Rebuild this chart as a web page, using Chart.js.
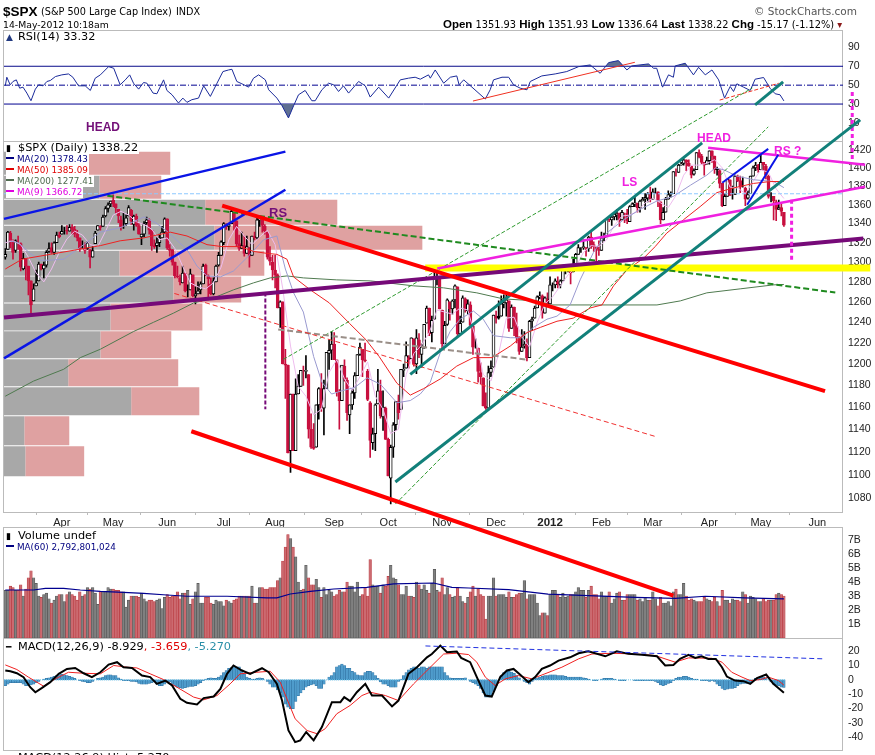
<!DOCTYPE html>
<html>
<head>
<meta charset="utf-8">
<title>$SPX</title>
<script src="https://cdn.jsdelivr.net/npm/chart.js@4"></script>
<style>
html, body { margin: 0; padding: 0; background: #fff; overflow: hidden; }
#wrap { position: relative; width: 875px; height: 755px; overflow: hidden; }
canvas { position: absolute; left: 0; top: 0; }
.t { position: absolute; white-space: nowrap; font: 11.3px "DejaVu Sans", sans-serif; line-height: 12px; color: #000; }
.ma { font-size: 8.8px; background: #fff; padding-right: 1px; }
.ma i { display: inline-block; width: 8px; height: 2px; margin: 0 3px 3px 0; background: currentColor; }
.ic { display: inline-block; width: 12px; font-size: 9px; }
.b { font-family: "Liberation Sans", Arial, sans-serif; font-weight: bold; font-size: 11.5px; }
.note { font-family: "Liberation Sans", Arial, sans-serif; font-weight: bold; font-size: 12px; }
</style>
</head>
<body>
<div id="wrap">
<canvas id="spx" width="875" height="761"></canvas>

<div class="t" style="left:3px;top:3px;font:bold 13.5px/18px 'Liberation Sans'">$SPX</div>
<div class="t" style="left:41px;top:6px;font-size:9.7px">(S&amp;P 500 Large Cap Index)</div>
<div class="t" style="left:176px;top:6px;font-size:9.7px">INDX</div>
<div class="t" style="left:3px;top:19px;font-size:9.3px">14-May-2012 10:18am</div>
<div class="t" style="left:754px;top:5px;font-size:10.5px;color:#555">© StockCharts.com</div>
<div class="t" style="left:443px;top:18px;font-size:9.8px"><span class="b">Open</span> 1351.93 <span class="b">High</span> 1351.93 <span class="b">Low</span> 1336.64 <span class="b">Last</span> 1338.22 <span class="b">Chg</span> -15.17 (-1.12%) <span style="color:#8b1a1a">▾</span></div>

<div class="t" style="left:6px;top:31px"><span class="ic" style="color:#223a80">▲</span>RSI(14) 33.32</div>
<div class="t" style="left:6px;top:142px;background:#fff;padding-right:1px"><span class="ic">▮</span>$SPX (Daily) 1338.22</div>
<div class="t ma" style="left:6px;top:153px;color:#000080"><i></i>MA(20) 1378.43</div>
<div class="t ma" style="left:6px;top:164px;color:#e00000"><i></i>MA(50) 1385.09</div>
<div class="t ma" style="left:6px;top:175px;color:#4f6b4f"><i></i>MA(200) 1277.41</div>
<div class="t ma" style="left:6px;top:186px;color:#e000e0"><i></i>MA(9) 1366.72</div>
<div class="t" style="left:6px;top:530px"><span class="ic">▮</span>Volume undef</div>
<div class="t ma" style="left:6px;top:541px;color:#000080;background:none"><i></i>MA(60) 2,792,801,024</div>
<div class="t" style="left:6px;top:641px"><span class="ic">━</span>MACD(12,26,9) -8.929<span style="color:#e00000">, -3.659</span><span style="color:#2a8fa8">, -5.270</span></div>
<div class="t" style="left:6px;top:752px"><span class="ic" style="color:#2e6f9e">▮</span>MACD(12,26,9) Hist -5.270</div>

<div class="t note" style="left:86px;top:121px;color:#730f78">HEAD</div>
<div class="t note" style="left:269px;top:207px;color:#730f78;font-size:13px">RS</div>
<div class="t note" style="left:697px;top:132px;color:#f020e0">HEAD</div>
<div class="t note" style="left:622px;top:176px;color:#f020e0">LS</div>
<div class="t note" style="left:774px;top:145px;color:#f020e0">RS ?</div>
</div>

<script>
// bars run from 2 Mar 2011 to 14 May 2012, x axis is the bar number
const monthTicks = [22, 42, 63, 85, 105, 128, 149, 170, 191, 212, 232, 252, 274, 294, 316];
const monthLabels = ['Apr', 'May', 'Jun', 'Jul', 'Aug', 'Sep', 'Oct', 'Nov', 'Dec', '2012', 'Feb', 'Mar', 'Apr', 'May', 'Jun'];
const priceTicks = [1420, 1400, 1380, 1360, 1340, 1320, 1300, 1280, 1260, 1240, 1220, 1200, 1180, 1160, 1140, 1120, 1100, 1080];
const rsiTicks = [90, 70, 50, 30, 10];
const volumeTicks = [7, 6, 5, 4, 3, 2, 1];
const macdTicks = [20, 10, 0, -10, -20, -30, -40];

const opens = [
  1305,1313,1330,1322,1312,1320,1319,1293,1303,1296,1281,1261,1276,1281,1298,1293,1297,1311,1315,1310,1320,1328,
  1329,1333,1333,1332,1336,1334,1329,1325,1315,1312,1314,1313,1305,1319,1333,1337,1337,1348,1356,1361,
  1365,1361,1355,1344,1340,1340,1348,1354,1339,1348,1338,1326,1329,1341,1344,1333,1317,1317,1320,1325,1331,
  1345,1314,1313,1300,1286,1284,1279,1289,1271,1272,1287,1266,1268,1272,1278,1297,1286,1278,1268,1280,1297,1307,
  1320,1339,1337,1340,1352,1343,1319,1314,1317,1309,1315,1307,1327,1325,1344,1344,1337,1331,1305,1300,
  1292,1287,1254,1260,1200,1199,1121,1172,1121,1172,1179,1193,1193,1190,1140,1124,1124,1162,1177,1159,1177,1210,1213,
  1219,1204,1174,1166,1198,1185,1153,1162,1173,1189,1209,1214,1204,1193,1164,1128,1136,1163,1175,1151,1159,
  1131,1097,1124,1144,1165,1158,1194,1196,1206,1205,1224,1200,1223,1209,1215,1239,1254,1230,1243,1284,1284,
  1252,1219,1238,1260,1253,1262,1275,1229,1240,1263,1251,1257,1236,1216,1215,1192,1187,1161,1159,1192,1197,
  1246,1246,1246,1258,1259,1261,1234,1255,1236,1226,1212,1217,1219,1206,1241,1244,1254,1265,1266,1249,1263,
  1258,1277,1277,1280,1277,1281,1292,1293,1294,1290,1294,1308,1315,1315,1315,1314,1326,1318,1316,1313,
  1312,1326,1326,1345,1344,1347,1349,1351,1344,1351,1351,1342,1358,1361,1362,1357,1364,1366,1367,1372,
  1366,1374,1374,1363,1344,1352,1366,1371,1372,1395,1395,1403,1405,1409,1405,1402,1393,1398,1417,1413,1406,1404,
  1408,1419,1413,1399,1397,1383,1359,1369,1387,1370,1371,1391,1386,1379,1378,1367,1372,1391,1400,1403,
  1398,1406,1402,1391,1369,1369,1363,1355,1357,1352
];
const highs = [
  1314,1332,1332,1323,1323,1327,1320,1309,1304,1296,1281,1278,1292,1300,1298,1300,1312,1320,1320,1321,1331,1331,
  1338,1336,1338,1339,1339,1337,1333,1325,1322,1320,1321,1313,1316,1332,1338,1338,1349,1358,1362,1364,
  1371,1361,1355,1348,1351,1349,1359,1355,1349,1350,1340,1329,1342,1347,1345,1333,1323,1325,1329,1337,1346,
  1345,1318,1313,1300,1296,1287,1296,1289,1277,1293,1287,1275,1280,1280,1298,1298,1287,1284,1284,1297,1310,1322,
  1341,1340,1340,1356,1352,1343,1328,1331,1327,1327,1315,1327,1331,1347,1347,1344,1339,1331,1316,1307,
  1307,1288,1261,1260,1214,1199,1172,1172,1186,1190,1194,1198,1208,1190,1154,1145,1162,1178,1191,1185,1211,1223,1231,
  1230,1204,1176,1198,1204,1187,1162,1176,1192,1209,1220,1214,1220,1195,1165,1141,1163,1195,1185,1175,1160,
  1132,1126,1146,1165,1171,1195,1200,1221,1208,1225,1224,1233,1229,1219,1238,1256,1254,1246,1293,1293,1284,
  1252,1241,1263,1260,1262,1277,1275,1246,1266,1264,1262,1260,1238,1224,1215,1201,1187,1173,1198,1203,1247,
  1251,1261,1266,1267,1267,1261,1257,1255,1249,1226,1233,1231,1224,1242,1245,1256,1266,1270,1267,1265,1269,
  1285,1279,1283,1285,1282,1297,1294,1297,1294,1303,1309,1318,1315,1323,1315,1327,1333,1321,1316,1322,
  1331,1330,1345,1345,1349,1351,1355,1351,1354,1351,1355,1359,1362,1368,1358,1365,1368,1372,1373,1379,
  1377,1378,1374,1363,1357,1368,1375,1374,1396,1399,1404,1406,1410,1409,1409,1402,1399,1417,1420,1415,1406,1412,
  1419,1419,1413,1401,1398,1383,1372,1388,1387,1380,1392,1392,1391,1390,1379,1375,1391,1402,1406,1404,
  1415,1406,1404,1392,1373,1369,1365,1365,1362,1352
];
const lows = [
  1303,1313,1315,1303,1310,1313,1291,1292,1282,1267,1249,1261,1276,1281,1292,1284,1295,1310,1309,1308,1320,1325,
  1329,1329,1329,1332,1329,1326,1322,1311,1314,1309,1313,1294,1305,1319,1333,1333,1337,1347,1352,1358,
  1358,1351,1341,1333,1335,1338,1348,1339,1333,1337,1329,1318,1326,1339,1329,1312,1314,1310,1316,1325,1330,
  1313,1306,1297,1284,1284,1277,1279,1270,1265,1272,1265,1258,1268,1268,1278,1286,1262,1267,1267,1280,1296,1307,
  1318,1334,1333,1340,1333,1316,1312,1314,1306,1309,1295,1307,1323,1324,1337,1331,1329,1303,1297,1282,
  1274,1254,1235,1200,1168,1119,1102,1121,1121,1172,1179,1180,1187,1132,1123,1122,1124,1149,1156,1135,1178,1195,1204,
  1204,1170,1140,1167,1184,1148,1136,1158,1168,1189,1208,1188,1202,1166,1115,1122,1121,1163,1150,1139,1131,
  1099,1075,1115,1139,1149,1158,1188,1196,1196,1205,1198,1191,1206,1197,1215,1239,1227,1221,1243,1277,1253,
  1215,1219,1237,1242,1248,1254,1226,1228,1240,1250,1248,1235,1209,1215,1183,1181,1161,1158,1159,1188,1197,
  1239,1243,1246,1254,1246,1231,1234,1227,1220,1209,1212,1215,1203,1206,1232,1244,1254,1263,1244,1249,1256,
  1258,1271,1274,1274,1274,1281,1288,1290,1278,1290,1294,1308,1310,1313,1306,1311,1314,1311,1300,1307,
  1312,1322,1326,1342,1338,1344,1344,1337,1344,1341,1340,1342,1358,1358,1352,1352,1364,1355,1363,1363,
  1366,1372,1358,1340,1344,1352,1366,1368,1372,1391,1395,1403,1403,1397,1402,1389,1392,1398,1411,1404,1392,1404,
  1404,1406,1394,1392,1378,1358,1359,1369,1370,1366,1371,1385,1373,1379,1359,1366,1372,1391,1397,1395,
  1398,1397,1388,1367,1363,1344,1343,1355,1348,1337
];
const closes = [
  1308,1331,1321,1310,1322,1320,1295,1304,1296,1281,1257,1273,1279,1298,1293,1297,1310,1314,1310,1320,1328,1326,
  1332,1333,1332,1336,1334,1329,1325,1314,1315,1314,1320,1305,1312,1330,1338,1336,1347,1356,1360,1364,
  1361,1357,1348,1336,1340,1346,1357,1343,1348,1338,1329,1329,1340,1344,1333,1317,1316,1320,1325,1331,1345,
  1315,1312,1300,1286,1285,1280,1289,1271,1271,1288,1266,1268,1271,1278,1296,1287,1283,1268,1281,1296,1307,1321,
  1340,1337,1339,1353,1344,1319,1314,1317,1309,1316,1306,1327,1325,1344,1345,1338,1332,1305,1301,1292,
  1287,1254,1260,1200,1199,1119,1172,1121,1172,1179,1194,1193,1194,1140,1124,1123,1162,1177,1159,1177,1211,1213,1219,
  1204,1174,1166,1199,1186,1155,1162,1173,1189,1209,1216,1204,1203,1167,1130,1136,1162,1175,1152,1160,1131,
  1099,1124,1144,1165,1155,1195,1195,1208,1204,1225,1200,1225,1209,1216,1238,1254,1229,1242,1285,1285,1253,
  1219,1237,1262,1253,1261,1276,1229,1239,1264,1252,1258,1237,1216,1216,1193,1188,1161,1159,1192,1196,1247,
  1244,1244,1258,1259,1262,1234,1255,1236,1225,1212,1216,1219,1206,1241,1243,1254,1265,1266,1249,1264,1258,
  1277,1277,1281,1278,1281,1292,1293,1296,1289,1293,1308,1315,1315,1316,1314,1326,1318,1316,1313,1312,
  1325,1325,1345,1344,1347,1350,1351,1343,1352,1351,1343,1358,1361,1362,1357,1364,1366,1368,1372,1366,
  1374,1374,1364,1344,1352,1366,1371,1372,1396,1395,1403,1404,1409,1406,1402,1392,1397,1417,1412,1406,1403,1408,
  1419,1413,1398,1398,1383,1359,1369,1388,1370,1370,1391,1386,1379,1379,1366,1371,1391,1400,1403,1398,
  1406,1403,1392,1369,1369,1364,1355,1357,1353,1338.22
];

const volumes = [
  3.4,3.4,3.7,3.6,3.4,3.4,3.8,3.0,3.5,4.3, 4.8,4.3,3.9,3.0,2.9,3.1,3.2,2.8,2.5,2.7,
  3.0,3.1,3.1,2.6,3.1,3.3,3.1,3.0,2.7,3.3, 3.0,3.1,3.6,3.5,3.6,3.2,2.4,3.3,3.3,3.3,
  3.6,3.5,3.5,3.4,3.4,3.3,3.3,2.2,2.7,3.0, 3.0,3.0,2.9,3.2,2.8,2.6,2.7,2.7,2.6,2.7,
  2.8,2.1,2.9,3.1,2.9,3.0,3.0,3.3,2.8,3.2, 3.2,3.4,2.4,2.8,3.3,3.9,2.5,2.5,2.9,2.9,
  2.5,2.4,2.7,2.6,2.6,2.3,2.7,2.6,2.5,2.7, 2.8,3.0,3.0,3.0,3.0,3.0,3.7,2.5,2.5,3.6,
  3.6,3.5,3.5,3.6,3.6,3.6,4.1,4.3,5.5,6.5, 7.4,7.1,6.5,5.8,4.0,3.4,3.5,5.2,4.3,3.8,
  3.8,4.2,3.6,2.9,3.6,3.1,3.4,3.3,3.0,3.1, 3.4,3.3,3.3,4.0,3.7,3.7,3.3,4.0,3.0,3.1,
  3.6,3.0,5.6,3.8,3.7,3.7,3.2,3.8,3.7,4.4, 5.2,4.3,4.2,3.8,3.1,3.1,3.7,3.0,3.0,2.9,
  4.0,3.8,3.5,3.8,3.4,3.2,3.9,4.9,3.4,3.3, 4.3,3.1,3.6,3.1,2.9,3.0,3.6,3.0,2.6,2.5,
  2.9,3.3,3.7,3.0,3.5,3.1,3.0,1.35,3.0,3.0, 4.3,3.0,3.1,3.1,3.1,2.9,3.3,2.9,2.9,3.1,
  3.2,3.2,4.1,2.8,3.1,3.1,3.1,2.5,1.6,1.8, 1.8,1.6,3.1,3.4,3.4,3.1,2.9,3.2,2.9,3.0,
  3.1,3.1,3.3,3.6,3.4,3.4,2.9,3.4,3.7,3.1, 3.1,2.8,3.3,3.0,3.0,3.3,2.5,2.8,3.2,3.3,
  2.7,2.7,3.1,3.1,3.1,3.1,2.7,2.8,2.6,2.9, 2.7,2.7,3.3,2.8,2.3,2.9,2.5,2.5,2.6,2.3,
  3.3,3.5,3.1,3.1,3.9,3.0,2.7,2.8,2.7,2.6, 2.6,2.6,2.9,2.8,2.7,2.6,2.9,2.6,2.3,3.4,
  2.7,2.7,2.5,2.8,2.7,2.7,2.6,3.3,3.1,2.5, 3.0,2.9,2.8,2.6,2.6,2.8,2.6,2.7,2.7,2.7,
  3.1,3.2,3.1,3.0
];
const volumeMaIndex = [0,11,15.6,22.7,29.2,37,46,53.8,62.9,70.7,86.3,101.8,105.7,110.9,118.7,127.8,140.7,151.1,166.7,173.8,180.3,195.9,211.2,226.9,245,260.7,272.4,287.7,303];
const volumeMa = [3.43,3.43,3.55,3.55,3.43,3.33,3.26,3.19,3.07,2.98,2.98,2.86,2.86,3.14,3.33,3.5,3.62,3.86,3.93,3.62,3.57,3.45,3.14,3.02,2.9,2.83,2.98,2.86,2.8];

const ma20Index = [1.6,5,9.7,13.6,17,22.7,29,37,45,54,59,62.9,70.7,74.6,78.5,83.7,88.8,95.3,100.5,105.7,109,112.2,116,120,123.2,127,131,136,140.8,146,152.4,157.6,161.5,165.4,169.3,173.1,177,182.2,186,190,196.5,201,205.5,210.8,214.7,219.8,223.7,228.9,234,240.6,247,253.6,260,266.6,273,276.3,279.5,284.7,291.2,299,303];
const ma20 = [1322,1320,1309,1302,1302,1303,1315,1331,1336,1347,1340,1332,1313,1296,1286,1285,1291,1308,1323,1327,1293,1269,1250,1207,1183,1172,1175,1178,1187,1181,1164,1166,1172,1183,1211,1231,1243,1251,1243,1227,1225,1225,1235,1243,1246,1257,1282,1310,1330,1344,1355,1364,1369,1381,1392,1400,1398,1391,1387,1385,1378.4];
const ma50Index = [0,6.5,17.5,30.5,37,44.7,53.8,64.2,70.7,78.5,84.3,91.4,96.6,101.8,105.7,109.6,112.2,118.7,126.1,133.9,140.4,145.5,152.4,157.6,162.8,169.3,175.7,182.2,189.4,196.5,203,208.2,214.7,221,227.6,232.2,236.7,241.9,248.4,252.9,257.4,263.9,270.4,276.9,283.3,291.2,297.6,303];
const ma50 = [1293,1303,1308,1314,1317,1322,1325,1331,1327,1318,1316,1316,1311,1309,1308,1303,1285,1272,1259,1239,1223,1207,1182,1171,1177,1186,1198,1206,1206,1217,1230,1235,1241,1244,1254,1257,1276,1292,1304,1316,1330,1344,1358,1373,1378,1383,1385,1385.1];
const ma200Index = [0,11,22.7,29.2,37,49.9,57.7,65.5,73.3,81.1,88.8,96.6,103.1,109.6,116,129,142,158.9,170.6,183.5,193.8,206.9,212,253.6,262.7,273,286,299,303];
const ma200 = [1170,1184,1195,1206,1214,1231,1240,1249,1259,1264,1272,1279,1284,1286,1284,1282,1281,1276,1274,1269,1263,1261,1257,1257,1261,1269,1273,1277,1277.4];
const ma9Index = [0,3,6,9,12,15,18,21,24,27,30,33,36,39,42,45,48,51,54,57,60,63,66,69,72,75,78,81,84,87,90,93,96,99,102,105,108,111,114,117,120,123,126,129,132,135,138,141,144,147,150,153,156,159,162,165,168,171,174,177,180,183,186,189,192,195,198,201,204,207,210,213,216,219,222,225,228,231,234,237,240,243,246,249,252,255,258,261,264,267,270,273,276,279,282,285,288,291,294,297,300,303];
const ma9 = [1320,1322,1318,1305,1289,1280,1293,1310,1324,1332,1328,1318,1316,1332,1349,1353,1349,1342,1339,1334,1323,1325,1314,1296,1279,1275,1273,1279,1295,1323,1337,1327,1318,1326,1333,1318,1273,1217,1179,1170,1153,1158,1192,1204,1186,1175,1188,1202,1170,1158,1136,1140,1190,1210,1218,1230,1252,1250,1248,1254,1252,1225,1190,1184,1210,1244,1245,1226,1216,1240,1258,1265,1276,1287,1295,1310,1317,1316,1323,1338,1348,1349,1353,1362,1367,1362,1357,1370,1392,1403,1403,1405,1409,1400,1379,1378,1372,1385,1398,1395,1377,1366.7];

const rsiIndex = [0,0.6,1.9,3,4.3,5.6,6.9,8.4,10,11.7,13,14.7,16.2,17.5,19.5,22,24.6,26.3,28.5,31.1,33.1,35,37,40.2,42.2,44.7,46.7,48.4,49.9,51.9,53.8,55.1,57.5,59,61.6,62.9,64.9,67.4,69.1,70.7,72.6,75.2,77.2,79.8,82.4,84.7,86.9,88.2,90.1,92.1,94.7,96.6,98.6,101.2,102.5,105.7,107.7,110.2,112.2,114.1,116.7,119.3,120.6,123.2,125.8,127.8,129.7,131.6,133.6,137.5,140.1,142,145.3,149.2,153.7,156.9,159.5,161.5,164.7,165.4,167.3,170.6,173.2,175.7,176.6,178.4,181.6,186.8,188.7,190,193.3,195.9,197.8,200.4,203,204.3,208.8,214,218.5,223.1,227.6,231.5,234.8,238.6,241.9,243.8,250.3,252.3,253.5,255.8,258.1,260,260.7,264.6,267.8,269.8,272.4,275,277.6,279.9,282.1,283.4,284.7,287.3,289.9,291.8,295.1,297.6,299.6,301.5,303];
const rsi = [49.3,58.4,50.4,53.9,55.6,46.8,47.9,41.6,33.5,45.8,50.4,49.3,53.9,54.9,59.1,60.9,61.9,58.4,49.3,49.3,44.4,57.4,60.9,69.6,67.9,50.4,55.6,60.9,52.1,45.8,52.8,52.1,41.6,40.9,55.6,44.4,39.8,31.1,36.3,31.8,34.6,36.3,49.3,38.1,52.1,64.4,66.1,66.8,53.9,51.4,47.9,57.4,60.9,55.6,45.1,36.3,28.2,15.3,28.2,39.8,44.4,33.5,33.5,45.1,52.1,50.4,43.3,49.3,41.6,53.9,49.3,37.4,47.9,36.3,55.6,57.4,58.4,56.3,60.9,57.4,66.1,52.1,58.4,59.8,50.4,55.6,47.9,35.3,45.1,55.6,58.4,58.4,50.4,46.8,45.1,53.9,59.8,61.9,64.4,69.6,71.4,62.6,73.9,76,66.1,70.4,72.5,67.9,67.9,47.9,60.9,58.4,70.4,73.2,60.9,68.9,60.9,66.1,55.6,36.3,48.6,43.3,51.4,47.9,44.4,56.3,58.1,46.8,40.9,39.8,33.32];

const macdIndex = [0,2,4.5,7.1,9.7,11.7,14.3,17.5,20.8,24,27.2,30.5,33.7,37,40.2,43.5,46,49.3,53.2,56.4,59,62.3,64.9,68.1,70.7,74.6,77.2,81.1,83.7,86.3,88.8,92.1,95.3,99.9,102.5,105.7,107.7,110.2,112.8,114.8,117.1,120,123.2,127.1,130.4,131.9,134.2,136.8,140.1,142.7,146.6,150.5,153,156.9,160.2,164.1,166,169.3,171.9,175.7,177.4,180.9,183.5,186.8,189.3,192.6,195.2,197.8,200.4,203.6,206.2,208.8,212,215.3,219.8,223.1,226.9,233.5,238,242.5,247.7,253.6,256.8,260,262.6,265.9,268.5,271,273.6,276.5,278.9,280.8,284,287.3,289.9,292.5,296.1,298.9,303];
const macd = [6.5,6,4.6,1.9,-5.1,-8.6,-5.6,-1.6,4.2,7.6,8.3,4.6,1.9,5.3,10.6,12.3,8.8,8.3,3,1.9,-2.8,-0.5,-3.9,-13.2,-16,-17.1,-12.7,-11.6,-6.3,4.2,10,6.5,4.2,8.1,5.3,-2.8,-14.4,-35.2,-43.3,-42.1,-36.3,-42.1,-32.9,-15.5,-15.5,-12,-14.8,-8.6,-2.8,-10.9,-10.9,-18.5,-14.4,4.2,8.8,15.7,18,23.8,19.2,19.7,15.3,12.3,1.9,-10.9,-11.6,1.9,6.5,7.6,3.5,-1.6,1.9,7.6,10,13.4,15.7,18.5,19.9,16.4,19.9,18.1,17.4,16.4,10,10.4,14.6,17.4,15.3,16.4,14.6,14.6,8.8,2.3,-0.5,-0.9,-2.8,1.2,3.7,-2.8,-8.93];
const signalIndex = [0,4.5,9,14.9,19.5,24.6,30.5,37,42.2,47.3,51.2,56.4,61.6,66.8,73.3,77.2,82.4,87.5,91.4,97.9,103.1,107,109.6,112.8,117.4,121.3,124.5,129,134.2,138.8,142,147.9,153,158.9,164.1,170.6,175.7,180.3,183.5,186.8,190.6,194.6,199.7,204.9,210,216.6,223.1,228.3,236.1,245.1,252.9,260.7,265.9,275,278.9,282.7,286.7,289.9,293.8,297,300.9,303];
const signal = [10.4,7.2,1.9,-4.4,0.7,5.3,4.6,4.2,10,8.8,8.3,4.2,0.2,-5.1,-12,-13.9,-10.9,-2.8,4.2,5.3,6,-1.6,-13.2,-27.1,-35.2,-37.5,-34,-23.6,-17.8,-10.9,-8.6,-10.9,-14.4,-2.8,6.5,18,18.5,17.6,12.3,1.9,-3.9,0.7,3,0.7,4.2,8.8,14.6,18,18.5,18,16.9,12.3,15.3,15,12.3,5.3,1.9,-0.5,0.2,1.9,-0.5,-3.66];
const histogram = [
  -4,-3,-2,-2,-2,-2,-2,-3,-4,-4, -3.5,-3,-2,-1,0,0.5,1,1.5,2,2.5, 3,3.5,3.8,3.5,3,2.5,2,1,0,-0.5,
  -1,-1.5,-2,-2,-1,0,1,1.5,2,3, 3.5,3.5,3,3,1.5,0.5,-0.5,-0.5,-0.5,-1, -1,-1.5,-2.5,-3,-3,-3,-2.5,-2,-1.5,-3,
  -4,-4,-3,-1,-1.5,-3,-4,-5,-5.5,-6, -5.5,-5,-4.5,-4.5,-4,-3,-2,-0.5,0.5,1, 1.5,1,1,2,3,5,6.5,8,8.5,9,
  9,9,7,4,2,1,0.5,0.5,1,1.5, 1,0,-1,-3,-5,-5,-7,-9,-12,-17, -19,-20,-20,-15,-11,-9,-7,-5,-4,-3.5,
  -3,-4,-6,-6,-3,0,2,3,5,9, 10,11,10,8,8,6,5,3.5,3,3, 5,6,6,5,3,1,-1.5,-3,-3,-4,
  -5,-5,-5,-1,0.5,3,5,7,8,9, 9,8,9,9,8,9,9,9,9,9, 9,5,3,1.5,1,1,1,1,1,1.5,
  0,-1,-2,-3,-4,-6,-9,-12,-12,-11, -8,-4,0,3,5,6,6,5.5,4.5,3, 1.5,0,-1,-2,-3,-1,1,1.5,2,2.5,
  3,3,3.5,3.5,3.5,3,3,3,2.5,2, 2,2,2,2,2,1.5,1,0.5,0,-0.5, -0.5,0,0.5,1,1,1,1,0.5,0,-0.5,
  -0.5,-0.5,0,0,0,-0.5,-0.5,-0.5,-0.5,-0.5, -0.5,-0.5,-0.5,-1,-2,-3.5,-4,-3.5,-2.5,-2, -0.5,1,2,2,2.5,2.5,2,1,0.5,0.5,
  0,-0.5,-0.5,-0.5,-1,-0.5,-1,-3,-4,-6, -7,-6.5,-6,-6,-5.5,-4,-3,-2.5,-2.5,-2.5, -2,0,1,1.5,2,2,1.5,0,-1.5,-3,
  -3.5,-4,-5,-5.27
];

// volume by price rows, centre price and where the grey and pink parts end (bar number)
const profilePrices = [1405, 1378.9, 1352, 1325.3, 1299, 1272.3, 1245.2, 1218.2, 1191.7, 1165.4, 1138.7, 1111.7];
const profileGrey = [31.9, 36.6, 77.8, 81.3, 44.4, 65.4, 40.9, 37, 24.5, 49, 7.4, 7.8];
const profilePink = [64.2, 60.7, 129.2, 162.3, 100.8, 91.8, 76.7, 64.6, 67.3, 75.5, 24.9, 30.7];

// hand drawn lines on the price chart, [bar number, price]
const blueTop = [[-0.5, 1345], [109, 1418]];
const blueLow = [[-0.5, 1205.3], [109, 1376.1]];
const purpleNeck = [[-0.5, 1244.7], [333.9, 1324.3]];
const greenDown = [[39.7, 1369.7], [323, 1269.3]];
const redTop = [[84.4, 1359], [319, 1174.7]];
const redLow = [[72.4, 1138.2], [260, 1000.3]];
const redMid = [[65.8, 1268.4], [252.9, 1133.6]];
const greyNeck = [[106.2, 1233], [203.5, 1204]];
const purpleDrop = [[101.2, 1269.3], [101.2, 1158]];
const greenThinTop = [[108.2, 1204.3], [290.7, 1490.7]];
const greenThinLow = [[151.8, 1074.9], [296.9, 1445.9]];
const tealLow = [[151.8, 1093.7], [332.7, 1453.8]];
const tealTop = [[157.6, 1190.3], [271.2, 1427.8]];
const tealTopEnd = [[291.8, 1471], [302.7, 1497.8]];
const pinkTop = [[273.5, 1422.2], [334.6, 1403.4]];
const pinkNeck = [[168.1, 1293.5], [334.6, 1379.4]];
const pinkDrop = [[306, 1365.4], [306, 1299.6]];
const pinkDropFar = [[329.6, 1486], [329.6, 1406.7]];
const wedgeTop = [[279, 1383.7], [296.9, 1421.1]];
const wedgeLow = [[288.7, 1360], [300.8, 1414.4]];
const yellowBand = [[163.4, 1294], [336.6, 1294]];
const lastPrice = [[-0.5, 1371.8], [326, 1371.8]];
const rsiUp = [[182, 33.2], [245, 74.2]];
const rsiUpDash = [[278, 34.2], [301, 52]];
const macdDown = [[163.5, 23.6], [319, 14.6]];
const macdZero = [[-0.5, 0], [303.5, 0]];
const rsiLine70 = [[-0.5, 70], [326, 70]];
const rsiLine50 = [[-0.5, 50], [326, 50]];
const rsiLine30 = [[-0.5, 30], [326, 30]];

const pts = (xs, ys) => xs.map((x, i) => ({ x: x, y: ys[i] }));
const pairs = (list) => list.map(p => ({ x: p[0], y: p[1] }));

function line(data, yAxisID, color, width, order, extra) {
    return Object.assign({
        type: 'line',
        data: data,
        yAxisID: yAxisID,
        borderColor: color,
        borderWidth: width,
        pointRadius: 0,
        tension: 0,
        fill: false,
        order: order
    }, extra || {});
}

function bars(data, yAxisID, thickness, fill, stroke, strokeWidth, order) {
    return {
        type: 'bar',
        data: data,
        yAxisID: yAxisID,
        stack: 'all',
        barThickness: thickness,
        backgroundColor: fill,
        borderColor: stroke,
        borderWidth: strokeWidth,
        borderSkipped: false,
        order: order
    };
}

// candle colours: red closes under the day before, hollow closes over its open
const RED = '#c8103f';
const isDown = closes.map((c, i) => i > 0 && c < closes[i - 1]);
const bodyFill = closes.map((c, i) => c >= opens[i] ? '#ffffff' : (isDown[i] ? RED : '#000000'));
const bodyLine = closes.map((c, i) => isDown[i] ? RED : '#000000');

const datasets = [];

// volume by price behind everything
const rowHeights = [23, 23, 25, 24, 25, 26, 27, 27, 27, 28, 29, 30];
profilePrices.forEach((p, i) => {
    datasets.push(line(pairs([[-0.5, p], [profileGrey[i], p]]), 'price', '#a8a8a8', rowHeights[i], 20, { borderCapStyle: 'butt' }));
    datasets.push(line(pairs([[profileGrey[i], p], [profilePink[i], p]]), 'price', '#dfa1a1', rowHeights[i], 20, { borderCapStyle: 'butt' }));
});

// candles
datasets.push(bars(closes.map((c, i) => ({ x: i, y: [lows[i], highs[i]] })), 'price', 1, bodyLine, bodyLine, 0, 11));
datasets.push(bars(closes.map((c, i) => ({ x: i, y: [opens[i], c] })), 'price', 3, bodyFill, bodyLine, 1, 10));

// moving averages
datasets.push(line(pts(ma200Index, ma200), 'price', '#4f7a4f', 1, 9));
datasets.push(line(pts(ma9Index, ma9), 'price', '#eebcee', 1, 8));
datasets.push(line(pts(ma20Index, ma20), 'price', '#9a9ad0', 1, 7));
datasets.push(line(pts(ma50Index, ma50), 'price', '#ee2222', 1, 6));

// trend lines, free to run out of the price panel
const free = { clip: false };
datasets.push(line(pairs(yellowBand), 'price', '#ffff00', 7, 5, { clip: false, borderCapStyle: 'butt' }));
datasets.push(line(pairs(lastPrice), 'price', '#8cc8ff', 1, 5, { borderDash: [4, 2] }));
datasets.push(line(pairs(purpleNeck), 'price', '#760a78', 4, 4, free));
datasets.push(line(pairs(greenDown), 'price', '#1f8a1f', 2, 4, { clip: false, borderDash: [6, 3] }));
datasets.push(line(pairs(redMid), 'price', '#f03030', 1, 4, { clip: false, borderDash: [5, 3] }));
datasets.push(line(pairs(greyNeck), 'price', '#9a8f88', 2, 4, { clip: false, borderDash: [6, 3] }));
datasets.push(line(pairs(purpleDrop), 'price', '#760a78', 2, 4, { clip: false, borderDash: [4, 2] }));
datasets.push(line(pairs(greenThinTop), 'price', '#2f9a2f', 1, 4, { clip: false, borderDash: [4, 2] }));
datasets.push(line(pairs(greenThinLow), 'price', '#2f9a2f', 1, 4, { clip: false, borderDash: [4, 2] }));
datasets.push(line(pairs(blueTop), 'price', '#0a14e6', 2.5, 3, free));
datasets.push(line(pairs(blueLow), 'price', '#0a14e6', 2.5, 3, free));
datasets.push(line(pairs(tealLow), 'price', '#12807a', 3, 3, free));
datasets.push(line(pairs(tealTop), 'price', '#12807a', 3, 3, free));
datasets.push(line(pairs(tealTopEnd), 'price', '#12807a', 3, 3, free));
datasets.push(line(pairs(pinkTop), 'price', '#f020e0', 2.5, 3, free));
datasets.push(line(pairs(pinkNeck), 'price', '#f020e0', 2.5, 3, free));
datasets.push(line(pairs(pinkDrop), 'price', '#f020e0', 3, 3, { clip: false, borderDash: [4, 3] }));
datasets.push(line(pairs(pinkDropFar), 'price', '#f020e0', 3, 3, { clip: false, borderDash: [4, 3] }));
datasets.push(line(pairs(wedgeTop), 'price', '#0a14e6', 2, 2, free));
datasets.push(line(pairs(wedgeLow), 'price', '#0a14e6', 2, 2, free));
datasets.push(line(pairs(redTop), 'price', '#ff0000', 4, 2, free));
datasets.push(line(pairs(redLow), 'price', '#ff0000', 4, 2, free));

// RSI panel
datasets.push(line(pairs(rsiLine70), 'rsi', '#000090', 1, 12));
datasets.push(line(pairs(rsiLine30), 'rsi', '#000090', 1, 12));
datasets.push(line(pairs(rsiLine50), 'rsi', '#000090', 1, 12, { borderDash: [6, 2, 1, 2] }));
datasets.push(line(pts(rsiIndex, rsi), 'rsi', '#1a2a9a', 1, 11, { fill: { target: { value: 30 }, above: 'rgba(0,0,0,0)', below: '#5f6f92' } }));
datasets.push(line(pts(rsiIndex, rsi), 'rsi', 'rgba(0,0,0,0)', 0, 11, { fill: { target: { value: 70 }, above: '#5f6f92', below: 'rgba(0,0,0,0)' } }));
datasets.push(line(pairs(rsiUp), 'rsi', '#f03020', 1, 5));
datasets.push(line(pairs(rsiUpDash), 'rsi', '#f03020', 1, 5, { borderDash: [4, 2] }));

// volume panel
const volFill = isDown.map(d => d ? '#cc6a70' : '#808080');
const volLine = isDown.map(d => d ? '#b83a40' : '#555555');
datasets.push(bars(volumes.map((v, i) => ({ x: i, y: v })), 'volume', 2.6, volFill, volLine, 0.6, 12));
datasets.push(line(pts(volumeMaIndex, volumeMa), 'volume', '#000090', 1.2, 11));

// MACD panel
datasets.push(bars(histogram.map((v, i) => ({ x: i, y: v })), 'macd', 2.6, '#4f9ccc', '#2e6f9e', 0.5, 13));
datasets.push(line(pairs(macdZero), 'macd', '#66c8f0', 1, 12, { borderDash: [1, 1] }));
datasets.push(line(pts(signalIndex, signal), 'macd', '#f02020', 1, 11));
datasets.push(line(pts(macdIndex, macd), 'macd', '#000000', 2, 10));
datasets.push(line(pairs(macdDown), 'macd', '#2030e0', 1, 9, { clip: false, borderDash: [5, 3] }));

const tickFont = { family: 'Liberation Sans', size: 11 };
const sideFont = { family: 'Liberation Sans', size: 10.5 };

function panelAxis(weight, extra, tickValues, format) {
    return Object.assign({
        position: 'right',
        stack: 'panels',
        stackWeight: weight,
        stacked: false,
        grid: { display: false, drawTicks: false },
        border: { display: false },
        ticks: { color: '#222', font: sideFont, padding: 5, autoSkip: false, callback: format },
        afterBuildTicks: s => { s.ticks = tickValues.map(v => ({ value: v })); },
        afterFit: s => { s.width = 32; }
    }, extra);
}

// grey frame around each panel
const panelFrames = {
    id: 'panelFrames',
    beforeDatasetsDraw(chart) {
        const { ctx, chartArea, scales } = chart;
        ctx.save();
        ctx.strokeStyle = '#bbbbbb';
        ctx.lineWidth = 1;
        ['rsi', 'price', 'volume', 'macd'].forEach(id => {
            const s = scales[id];
            ctx.strokeRect(chartArea.left - 0.5, Math.round(s.top) + 0.5, chartArea.width, Math.round(s.bottom - s.top));
        });
        ctx.restore();
    }
};

new Chart(document.getElementById('spx').getContext('2d'), {
    type: 'line',
    data: { datasets: datasets },
    plugins: [panelFrames],
    options: {
        responsive: false,
        animation: false,
        events: [],
        layout: { padding: { left: 4, top: 30, right: 0, bottom: 4 } },
        plugins: { legend: { display: false }, tooltip: { enabled: false } },
        scales: {
            x: {
                type: 'linear',
                min: -0.5,
                max: 326,
                offset: false,
                position: { price: 1068.1 },
                grid: { display: true, drawOnChartArea: false, tickLength: 3, color: '#bbbbbb' },
                border: { display: false },
                ticks: {
                    color: '#222',
                    padding: 1,
                    autoSkip: false,
                    maxRotation: 0,
                    font: c => (c.tick && c.tick.value === 212) ? { family: 'Liberation Sans', size: 11.5, weight: 'bold' } : tickFont,
                    callback: v => monthLabels[monthTicks.indexOf(v)]
                },
                afterBuildTicks: s => { s.ticks = monthTicks.map(v => ({ value: v })); }
            },
            rsi: panelAxis(111, { type: 'linear', min: -8.9, max: 108.4, weight: 1 }, rsiTicks, v => String(v)),
            price: panelAxis(372, { type: 'logarithmic', min: 1068.1, max: 1430.1, weight: 2 }, priceTicks, v => String(v)),
            gap: {
                type: 'linear',
                position: 'right',
                stack: 'panels',
                stackWeight: 15,
                weight: 3,
                min: 0,
                max: 1,
                grid: { display: false, drawTicks: false },
                border: { display: false },
                ticks: { display: false },
                afterFit: s => { s.width = 32; }
            },
            volume: panelAxis(111, { type: 'linear', min: 0, max: 7.93, weight: 4 }, volumeTicks, v => v + 'B'),
            macd: panelAxis(112, { type: 'linear', min: -48.6, max: 29.2, weight: 5 }, macdTicks, v => String(v))
        }
    }
});
</script>
</body>
</html>
